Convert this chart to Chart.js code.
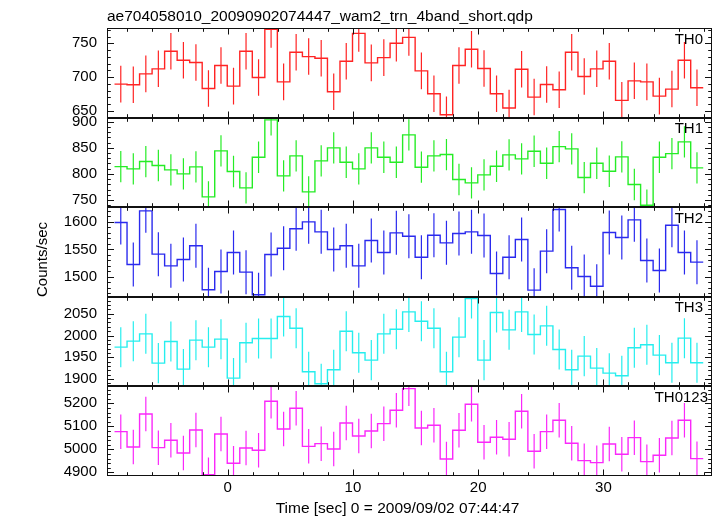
<!DOCTYPE html>
<html>
<head>
<meta charset="utf-8">
<script src="https://cdn.jsdelivr.net/npm/chart.js@4/dist/chart.umd.min.js"></script>
<style>
html,body{margin:0;padding:0;background:#ffffff;}
canvas{display:block;}
</style>
</head>
<body>
<canvas id="c" width="717" height="516"></canvas>
<script>
// ---- data ----
const titleText = 'ae704058010_20090902074447_wam2_trn_4band_short.qdp';
const xTitleText = 'Time [sec] 0 = 2009/09/02 07:44:47';
const yTitleText = 'Counts/sec';
const panelNames = ['TH0', 'TH1', 'TH2', 'TH3', 'TH0123'];

// bin centres (sec), 1 s bins
const timeSec = [-8.53, -7.53, -6.53, -5.53, -4.53, -3.53, -2.53, -1.53, -0.53, 0.47,
  1.47, 2.47, 3.47, 4.47, 5.47, 6.47, 7.47, 8.47, 9.47, 10.47,
  11.47, 12.47, 13.47, 14.47, 15.47, 16.47, 17.47, 18.47, 19.47, 20.47,
  21.47, 22.47, 23.47, 24.47, 25.47, 26.47, 27.47, 28.47, 29.47, 30.47,
  31.47, 32.47, 33.47, 34.47, 35.47, 36.47, 37.47];
const binHalfWidth = 0.5;

const th0 = [689.7, 688.7, 704.9, 712.3, 738.2, 725.0, 721.6, 683.3, 717.2, 686.8,
  738.2, 699.5, 770.6, 693.1, 736.8, 730.4, 727.9, 678.4, 723.5, 764.7,
  721.1, 728.9, 750.0, 758.8, 709.3, 675.5, 644.6, 717.2, 741.2, 712.7,
  675.5, 654.4, 711.8, 670.6, 689.2, 681.4, 736.8, 701.0, 712.3, 723.5,
  665.7, 694.6, 693.1, 672.0, 682.4, 725.0, 684.3];
const th1 = [814.0, 809.6, 823.6, 816.0, 807.7, 800.0, 813.4, 756.0, 844.0, 804.5,
  773.2, 831.9, 903.4, 796.2, 834.5, 765.5, 824.9, 849.8, 822.3, 809.6,
  849.8, 831.9, 822.3, 874.7, 812.8, 834.5, 837.0, 789.2, 782.8, 798.1,
  814.7, 836.4, 828.7, 843.4, 820.4, 852.3, 847.9, 793.0, 820.4, 805.1,
  832.5, 779.6, 740.0, 831.9, 838.9, 861.3, 811.5];
const th2 = [1599.0, 1522.7, 1620.3, 1541.5, 1520.3, 1531.8, 1556.7, 1476.7, 1510.0, 1544.5,
  1508.8, 1467.6, 1540.9, 1552.4, 1587.6, 1600.3, 1582.1, 1550.0, 1556.7, 1520.3,
  1566.4, 1544.5, 1580.3, 1574.2, 1536.0, 1576.0, 1562.1, 1579.1, 1582.1, 1575.5,
  1506.4, 1536.0, 1568.2, 1476.1, 1547.0, 1622.7, 1516.7, 1500.9, 1483.3, 1580.9,
  1571.8, 1603.9, 1530.0, 1511.8, 1594.2, 1544.5, 1527.0];
const th3 = [1973.2, 1987.0, 2003.8, 1936.5, 1986.2, 1922.7, 1989.3, 1973.2, 1991.6, 1902.1,
  1983.2, 1993.1, 1993.1, 2043.6, 2016.8, 1916.6, 1889.0, 1921.2, 2009.9, 1960.2,
  1943.4, 2003.8, 2014.5, 2054.3, 2032.9, 2016.8, 1916.6, 1996.2, 2084.9, 1943.4,
  2052.8, 2013.0, 2054.3, 2002.3, 2022.2, 1967.9, 1921.2, 1952.6, 1925.0, 1913.5,
  1907.4, 1971.7, 1978.6, 1954.9, 1937.3, 1993.9, 1937.3];
const th0123 = [5076.8, 5010.1, 5153.6, 5007.2, 5039.1, 4984.1, 5084.1, 4889.9, 5066.7, 4939.1,
  5005.8, 4995.7, 5208.7, 5088.4, 5178.3, 5013.0, 5024.6, 5001.4, 5114.5, 5058.0,
  5079.7, 5111.6, 5169.6, 5263.8, 5092.8, 5104.3, 4958.0, 5082.6, 5195.7, 5030.4,
  5052.2, 5043.5, 5165.2, 4991.3, 5076.8, 5126.1, 5026.1, 4950.7, 4942.0, 5023.2,
  4978.3, 5050.7, 4946.4, 4973.9, 5049.3, 5126.1, 4959.4];
// error half-widths per panel
const errHalf = [27, 30, 40, 46, 75];

// axis ranges and ticks
const xRange = [-9.63, 38.67];
const xMajorTicks = [0, 10, 20, 30];
const xMinorStep = 2;
const yMinArr = [640.3, 736.2, 1464.0, 1883.0, 4884.0];
const yMaxArr = [772.6, 907.8, 1626.9, 2089.0, 5273.5];
const yMajorStep = [50, 50, 50, 50, 100];
const yMinorStep = [10, 10, 10, 10, 20];

// ---- styles ----
const series = [th0, th1, th2, th3, th0123];
const colors = ['#ff2424', '#26ec26', '#2a2aee', '#26eeee', '#fa28fa'];
const FONT = "'Liberation Sans', Arial, Helvetica, sans-serif";
Chart.defaults.font.family = FONT;
Chart.defaults.color = '#000';

const datasets = [];
series.forEach((vals, p) => {
  const steps = [];
  vals.forEach((v, i) => {
    steps.push({x: timeSec[i] - binHalfWidth, y: v});
    steps.push({x: timeSec[i] + binHalfWidth, y: v});
  });
  datasets.push({
    type: 'line', data: steps, yAxisID: 'y' + p,
    borderColor: colors[p], borderWidth: 1.4, pointRadius: 0,
    fill: false, tension: 0, spanGaps: false
  });
  const bars = [];
  vals.forEach((v, i) => {
    bars.push({x: timeSec[i], y: v - errHalf[p]});
    bars.push({x: timeSec[i], y: v + errHalf[p]});
    bars.push({x: timeSec[i], y: null});
  });
  datasets.push({
    type: 'line', data: bars, yAxisID: 'y' + p,
    borderColor: colors[p], borderWidth: 1.2, pointRadius: 0,
    fill: false, tension: 0, spanGaps: false
  });
});

const plainNumber = v => String(Math.round(v));

const scales = {
  x: {
    type: 'linear', position: 'bottom', min: xRange[0], max: xRange[1],
    grid: {display: false, drawTicks: false}, border: {display: false},
    ticks: {stepSize: 10, includeBounds: false, autoSkip: false, maxRotation: 0,
      font: {size: 15}, color: '#000', padding: 3, callback: plainNumber},
    afterFit: s => { s.height = 40; }
  }
};
panelNames.forEach((n, p) => {
  scales['y' + p] = {
    type: 'linear', position: 'left', stack: 'panels', stackWeight: 1, weight: 5 - p,
    min: yMinArr[p], max: yMaxArr[p], offset: false,
    grid: {display: false, drawTicks: false}, border: {display: false},
    ticks: {stepSize: yMajorStep[p], includeBounds: false, autoSkip: false,
      font: {size: 15}, color: '#000', padding: 10, callback: plainNumber},
    afterFit: s => { s.width = 107; }
  };
});

const panelClip = {
  id: 'panelClip',
  beforeDatasetDraw(chart, args) {
    const ys = chart.scales[args.meta.yAxisID];
    const xs = chart.scales.x;
    const ctx = chart.ctx;
    ctx.save();
    ctx.beginPath();
    ctx.rect(xs.left, ys.top, xs.right - xs.left, ys.bottom - ys.top);
    ctx.clip();
  },
  afterDatasetDraw(chart) {
    chart.ctx.restore();
  }
};

const framesAndText = {
  id: 'framesAndText',
  afterDraw(chart) {
    const ctx = chart.ctx;
    const xs = chart.scales.x;
    ctx.save();
    ctx.strokeStyle = '#111';
    ctx.lineWidth = 1;
    const L = Math.round(xs.left) + 0.5, R = Math.round(xs.right) - 0.5;
    const seg = (x1, y1, x2, y2) => { ctx.beginPath(); ctx.moveTo(x1, y1); ctx.lineTo(x2, y2); ctx.stroke(); };
    panelNames.forEach((n, p) => {
      const ys = chart.scales['y' + p];
      const T = Math.round(ys.top) + 0.5, B = Math.round(ys.bottom) - 0.5;
      ctx.strokeRect(L, T, R - L, B - T);
      for (let v = Math.ceil(xs.min / xMinorStep) * xMinorStep; v <= xs.max; v += xMinorStep) {
        const px = Math.round(xs.getPixelForValue(v)) + 0.5;
        const len = xMajorTicks.includes(v) ? 6 : 3.3;
        seg(px, T, px, T + len);
        seg(px, B, px, B - len);
      }
      const mn = yMinorStep[p], mj = yMajorStep[p];
      for (let k = Math.ceil(ys.min / mn); k * mn <= ys.max; k++) {
        const v = k * mn;
        const py = Math.round(ys.getPixelForValue(v)) + 0.5;
        const len = (v % mj === 0) ? 6.5 : 3.3;
        seg(L, py, L + len, py);
        seg(R, py, R - len, py);
      }
      // panel label
      ctx.fillStyle = '#000';
      ctx.font = '15px ' + FONT;
      ctx.textAlign = 'right';
      ctx.textBaseline = 'alphabetic';
      const rightEdge = p === 4 ? 708 : 703;
      ctx.fillText(n, rightEdge, ys.top + 15.5);
    });
    ctx.fillStyle = '#000';
    // title
    ctx.font = '15.5px ' + FONT;
    ctx.textAlign = 'left';
    ctx.textBaseline = 'alphabetic';
    ctx.fillText(titleText, 107, 21);
    // x title
    ctx.textAlign = 'center';
    ctx.fillText(xTitleText, 397.5, 512.5);
    // y title
    ctx.font = '15px ' + FONT;
    ctx.translate(46.5, 259.5);
    ctx.rotate(-Math.PI / 2);
    ctx.textAlign = 'center';
    ctx.fillText(yTitleText, 0, 0);
    ctx.restore();
  }
};

new Chart(document.getElementById('c'), {
  type: 'line',
  data: {datasets},
  options: {
    responsive: false,
    animation: false,
    events: [],
    layout: {padding: {top: 28, right: 5, bottom: 0, left: 0}},
    plugins: {legend: {display: false}, tooltip: {enabled: false}, title: {display: false}},
    scales
  },
  plugins: [panelClip, framesAndText]
});
</script>
</body>
</html>
